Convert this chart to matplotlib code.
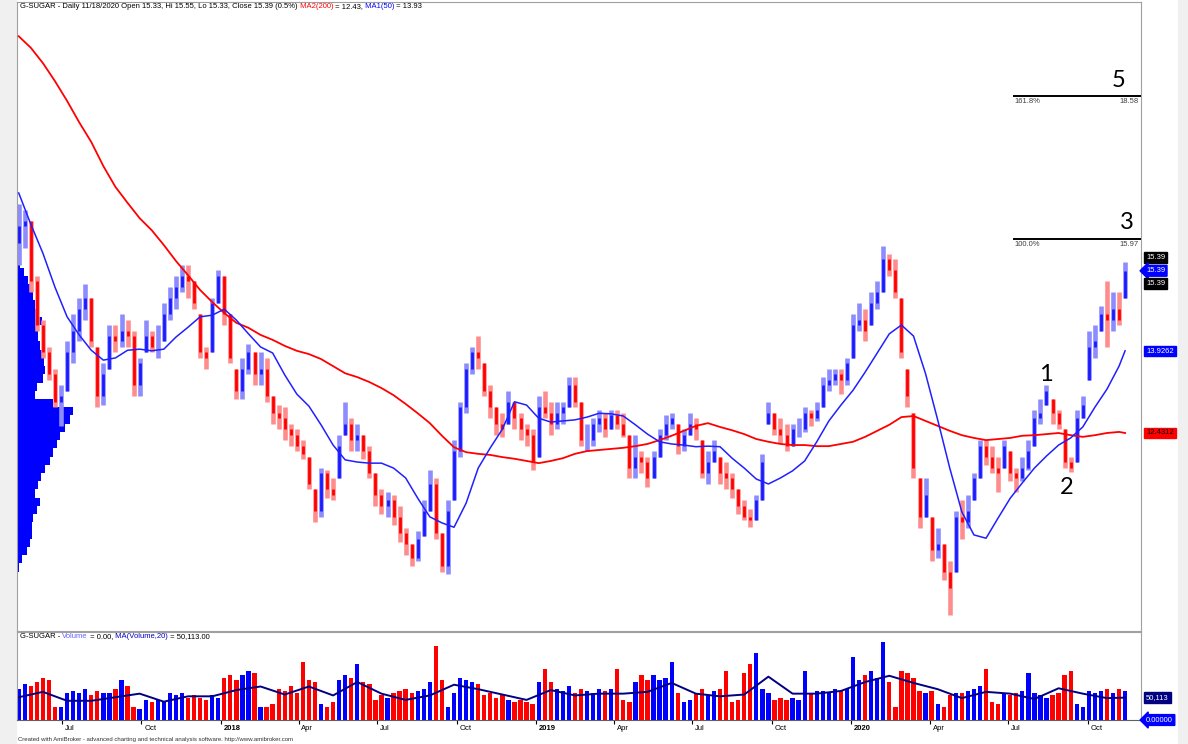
"""
G-SUGAR daily chart (AmiBroker style) re-drawn with matplotlib.
Bars are weekly (high/low/close read off the picture), MAs and volume MA
are sampled every 2 / 4 weeks.
"""
import matplotlib
matplotlib.use("Agg")
import matplotlib.pyplot as plt
import matplotlib.dates as mdates
from matplotlib.patches import Rectangle
from matplotlib.transforms import ScaledTranslation
import numpy as np
import pandas as pd

plt.rcParams["font.family"] = ["Liberation Sans", "DejaVu Sans"]

W, H = 1188, 744

# ---- data -----------------------------------------------------------------
weeks = pd.date_range("2017-05-12", periods=184, freq="W-FRI")
first_open = 15.9

closes = [
    16.2, 16.3, 15.2, 14.4, 13.9, 13.5, 13.0, 13.1, 13.9, 14.3,
    14.7, 14.9, 14.1, 13.1, 13.5, 14.2, 14.1, 14.3, 14.2, 13.3,
    13.7, 14.2, 14.0, 14.0, 14.6, 14.9, 15.1, 15.3, 15.2, 14.8,
    13.9, 13.8, 14.8, 15.3, 14.6, 13.8, 13.2, 13.6, 13.9, 13.5,
    13.6, 13.1, 12.8, 12.7, 12.5, 12.4, 12.2, 12.05, 11.5, 11.0,
    11.7, 11.4, 11.3, 12.2, 12.6, 12.3, 12.4, 12.1, 11.7, 11.3,
    11.1, 11.2, 10.9, 10.6, 10.4, 10.15, 10.5, 11.0, 11.5, 10.6,
    10.0, 11.0, 12.1, 12.9, 13.6, 13.9, 13.8, 13.2, 12.9, 12.6,
    12.5, 13.0, 12.7, 12.5, 12.4, 11.9, 12.9, 12.8, 12.6, 12.8,
    12.9, 13.3, 13.0, 12.3, 12.3, 12.6, 12.7, 12.5, 12.75, 12.6,
    12.4, 11.8, 12.0, 11.9, 11.6, 12.0, 12.4, 12.6, 12.7, 12.2,
    12.4, 12.6, 12.5, 11.7, 11.9, 12.1, 11.7, 11.6, 11.4, 11.1,
    10.9, 10.85, 11.2, 11.9, 12.8, 12.5, 12.4, 12.2, 12.5, 12.5,
    12.8, 12.7, 12.85, 13.3, 13.4, 13.5, 13.4, 13.7, 14.4, 14.5,
    14.3, 14.8, 15.0, 15.6, 15.4, 15.0, 13.9, 13.1, 11.8, 10.9,
    11.3, 10.3, 10.4, 9.9, 9.6, 10.9, 10.8, 11.0, 11.6, 12.2,
    12.0, 11.8, 11.7, 12.2, 11.7, 11.6, 11.8, 12.1, 12.7, 12.8,
    13.2, 12.8, 12.6, 11.9, 11.8, 12.7, 12.95, 14.0, 14.1, 14.6,
    14.5, 14.7, 14.5, 15.39,
]
highs = [
    16.6, 16.5, 16.3, 15.3, 14.5, 14.0, 13.6, 13.3, 14.1, 14.6,
    14.9, 15.15, 14.9, 14.0, 13.7, 14.4, 14.4, 14.6, 14.5, 14.3,
    13.8, 14.5, 14.3, 14.4, 14.8, 15.1, 15.3, 15.5, 15.5, 15.2,
    14.6, 14.0, 14.9, 15.4, 15.3, 14.6, 13.6, 13.8, 14.05, 13.9,
    13.9, 13.8, 13.1, 12.95, 12.9, 12.6, 12.5, 12.3, 12.0, 11.4,
    11.8, 11.75, 11.6, 12.4, 13.0, 12.7, 12.6, 12.4, 12.2, 11.7,
    11.4, 11.35, 11.3, 11.1, 10.7, 10.4, 10.65, 11.2, 11.75, 11.6,
    10.6, 11.2, 12.3, 13.0, 13.7, 14.0, 14.2, 13.7, 13.3, 12.9,
    12.8, 13.2, 13.0, 12.8, 12.6, 12.5, 13.1, 13.2, 13.0, 13.0,
    13.0, 13.45, 13.45, 13.0, 12.6, 12.7, 12.85, 12.8, 12.85, 12.85,
    12.8, 12.4, 12.4, 12.1, 12.0, 12.1, 12.5, 12.75, 12.8, 12.6,
    12.5, 12.8, 12.7, 12.3, 12.1, 12.3, 12.0, 11.9, 11.7, 11.4,
    11.2, 11.05, 11.3, 12.05, 13.0, 12.8, 12.7, 12.6, 12.6, 12.7,
    12.9, 12.85, 13.0, 13.45, 13.6, 13.6, 13.6, 13.8, 14.6, 14.8,
    14.7, 15.0, 15.2, 15.85, 15.7, 15.6, 14.9, 13.6, 12.8, 11.6,
    11.6, 10.9, 10.7, 10.4, 10.1, 11.0, 11.2, 11.3, 11.7, 12.3,
    12.3, 12.2, 12.0, 12.3, 12.1, 11.8, 12.0, 12.3, 12.85, 13.05,
    13.3, 13.05, 12.85, 12.5, 12.0, 12.85, 13.1, 14.3, 14.4, 14.75,
    15.2, 15.0, 15.0, 15.55,
]
lows = [
    15.5, 15.8, 15.0, 14.3, 13.8, 13.4, 12.9, 12.55, 13.2, 13.7,
    14.1, 14.5, 14.0, 12.9, 12.95, 13.6, 13.9, 14.0, 14.0, 13.1,
    13.1, 13.9, 13.9, 13.8, 14.1, 14.5, 14.7, 15.0, 14.9, 14.7,
    13.8, 13.6, 13.9, 14.8, 14.4, 13.7, 13.05, 13.05, 13.5, 13.3,
    13.3, 13.0, 12.6, 12.5, 12.3, 12.2, 12.1, 11.95, 11.4, 10.8,
    10.9, 11.25, 11.2, 11.6, 12.4, 12.1, 12.1, 11.95, 11.6, 11.1,
    10.95, 10.9, 10.75, 10.45, 10.2, 10.0, 10.1, 10.55, 11.0, 10.5,
    9.9, 9.85, 11.2, 12.0, 12.8, 13.5, 13.6, 13.1, 12.7, 12.4,
    12.35, 12.6, 12.5, 12.3, 12.2, 11.75, 12.0, 12.7, 12.4, 12.5,
    12.6, 12.9, 12.9, 12.2, 12.1, 12.2, 12.45, 12.35, 12.5, 12.5,
    12.35, 11.6, 11.6, 11.7, 11.45, 11.6, 12.0, 12.3, 12.5, 12.05,
    12.1, 12.4, 12.3, 11.6, 11.5, 11.9, 11.5, 11.4, 11.25, 10.95,
    10.85, 10.72, 10.85, 11.2, 12.6, 12.4, 12.25, 12.1, 12.2, 12.35,
    12.45, 12.55, 12.65, 12.9, 13.2, 13.3, 13.15, 13.3, 13.8, 14.3,
    14.1, 14.4, 14.7, 15.0, 15.3, 14.9, 13.8, 12.9, 11.6, 10.7,
    10.9, 10.1, 10.15, 9.75, 9.1, 9.9, 10.5, 10.7, 11.2, 11.6,
    11.85, 11.7, 11.35, 11.8, 11.55, 11.35, 11.55, 11.75, 12.2, 12.6,
    12.95, 12.6, 12.5, 11.8, 11.72, 11.9, 12.7, 13.4, 13.8, 14.3,
    14.0, 14.3, 14.4, 14.9,
]
# volume, thousands of contracts
volume_k = [
    70, 80, 75, 85, 95, 90, 30, 28, 60, 65,
    60, 70, 55, 65, 60, 60, 70, 90, 75, 30,
    25, 45, 40, 45, 40, 60, 55, 60, 50, 55,
    50, 45, 55, 50, 95, 100, 90, 100, 110, 105,
    30, 28, 35, 70, 65, 75, 60, 130, 90, 85,
    35, 30, 40, 90, 100, 95, 125, 85, 80, 45,
    55, 50, 60, 65, 70, 60, 65, 70, 85, 165,
    90, 30, 60, 95, 90, 85, 80, 55, 60, 50,
    55, 45, 40, 45, 40, 35, 85, 115, 85, 70,
    65, 75, 60, 70, 65, 60, 70, 65, 70, 115,
    45, 40, 85, 100, 90, 100, 90, 95, 130, 60,
    40, 45, 60, 70, 55, 65, 70, 110, 40, 45,
    105, 125, 150, 70, 60, 45, 50, 45, 50, 45,
    110, 60, 65, 65, 60, 70, 65, 70, 140, 90,
    100, 110, 95, 175, 85, 30, 110, 105, 95, 65,
    60, 65, 35, 30, 55, 60, 60, 65, 70, 75,
    115, 40, 35, 60, 55, 60, 65, 105, 60, 55,
    50, 55, 60, 100, 110, 35, 30, 65, 60, 65,
    70, 60, 70, 65,
]

# moving averages, every second week + last bar
ma_dates = weeks[::2].append(weeks[-1:])
ma200 = [
    19.67, 19.46, 19.18, 18.85, 18.49, 18.10, 17.74, 17.30, 16.92, 16.63,
    16.35, 16.13, 15.86, 15.57, 15.31, 15.04, 14.82, 14.62, 14.44, 14.35,
    14.22, 14.13, 14.02, 13.93, 13.87, 13.78, 13.65, 13.52, 13.45, 13.36,
    13.25, 13.12, 12.96, 12.79, 12.61, 12.38, 12.17, 12.08, 12.05, 12.03,
    11.99, 11.96, 11.92, 11.88, 11.92, 11.97, 12.05, 12.10, 12.12, 12.14,
    12.16, 12.19, 12.23, 12.30, 12.38, 12.47, 12.56, 12.61, 12.54, 12.48,
    12.41, 12.32, 12.27, 12.23, 12.21, 12.21, 12.19, 12.19, 12.23, 12.27,
    12.36, 12.47, 12.58, 12.72, 12.74, 12.65, 12.56, 12.47, 12.39, 12.34,
    12.30, 12.32, 12.34, 12.38, 12.39, 12.41, 12.43, 12.39, 12.36, 12.39,
    12.43, 12.45, 12.43,
]
ma50 = [
    16.81, 16.24, 15.71, 15.09, 14.55, 14.22, 13.94, 13.76, 13.80, 13.94,
    13.96, 13.93, 13.96, 14.18, 14.36, 14.55, 14.58, 14.69, 14.49, 14.24,
    14.00, 13.89, 13.49, 13.14, 12.92, 12.58, 12.21, 11.94, 11.90, 11.88,
    11.88, 11.79, 11.61, 11.24, 10.90, 10.79, 10.71, 11.15, 11.79, 12.16,
    12.50, 13.00, 12.94, 12.70, 12.63, 12.65, 12.67, 12.72, 12.79, 12.78,
    12.74, 12.58, 12.41, 12.27, 12.23, 12.21, 12.18, 12.19, 12.18, 11.97,
    11.79, 11.59, 11.50, 11.61, 11.74, 11.92, 12.27, 12.65, 12.94, 13.21,
    13.54, 13.89, 14.24, 14.40, 14.20, 13.51, 12.67, 11.79, 10.99, 10.57,
    10.51, 10.88, 11.24, 11.52, 11.79, 12.01, 12.21, 12.34, 12.54, 12.90,
    13.23, 13.65, 13.93,
]
# MA(Volume,20), every fourth week + last bar (thousands)
vol_ma_dates = weeks[::4].append(weeks[-1:])
vol_ma = [
    51, 63, 43, 43, 51, 59, 41, 53, 53, 67,
    75, 57, 75, 55, 85, 59, 45, 55, 79, 69,
    57, 45, 67, 55, 59, 59, 63, 83, 59, 53,
    57, 97, 59, 59, 65, 85, 99, 83, 69, 49,
    63, 59, 47, 71, 59, 49, 50.113,
]

# volume-at-price profile (bin bottom, relative volume)
profile_lo = [
    9.45, 9.60, 9.75, 9.90, 10.05, 10.20, 10.35, 10.50, 10.65, 10.80,
    10.95, 11.10, 11.25, 11.40, 11.55, 11.70, 11.85, 12.00, 12.15, 12.30,
    12.45, 12.60, 12.75, 12.90, 13.05, 13.20, 13.35, 13.50, 13.65, 13.80,
    13.95, 14.10, 14.25, 14.40, 14.55, 14.70, 14.85, 15.00, 15.15, 15.30,
    15.45,
]
profile_vol = [
    1, 1, 1, 2, 5, 10, 13, 15, 15, 16,
    20, 23, 18, 21, 24, 28, 33, 36, 40, 43,
    48, 53, 56, 36, 18, 20, 26, 28, 27, 26,
    23, 21, 21, 25, 20, 18, 16, 13, 11, 7,
    3,
]

# fibonacci projection and wave count
fib_start = "2020-07-06"
fib_levels = [15.97, 18.58]
fib_pcts = ["100.0%", "161.8%"]
wave_labels = ["1", "2", "3", "5"]
wave_dates = ["2020-08-13", "2020-09-06", "2020-11-15", "2020-11-05"]
wave_prices = [13.49, 11.43, 16.28, 18.87]

last_close, last_ma50, last_ma200 = 15.39, 13.9262, 12.4312

# ---- figure ---------------------------------------------------------------
fig = plt.figure(figsize=(W / 100, H / 100), dpi=100, facecolor="white")
fig.add_artist(Rectangle((0, 0), 16 / W, 1, transform=fig.transFigure,
                         color="#f0f0f0", zorder=-5))
fig.add_artist(Rectangle((1178 / W, 0), 10 / W, 1, transform=fig.transFigure,
                         color="#f0f0f0", zorder=-5))

ax = fig.add_axes([17 / W, 1 - 631 / H, (1141 - 17) / W, (631 - 2) / H])
axv = fig.add_axes([17 / W, 1 - 720 / H, (1141 - 17) / W, (720 - 632) / H])

x0 = mdates.date2num(pd.Timestamp("2017-05-10"))
x1 = mdates.date2num(pd.Timestamp("2020-12-01 10:00"))
for a in (ax, axv):
    a.set_xlim(x0, x1)
    a.set_yticks([])
    for sp in a.spines.values():
        sp.set_color("#a0a0a0")
        sp.set_linewidth(0.8)
ax.set_ylim(8.817, 20.295)
ax.set_xticks([])
axv.set_ylim(0, 197)
axv.spines["bottom"].set_color("#606060")

# price bars
x = mdates.date2num(weeks)
c = np.array(closes)
hi = np.array(highs)
lo = np.array(lows)
o = np.clip(np.r_[first_open, c[:-1]], lo, hi)
up = c >= o

# volume profile at the left edge
pv = np.array(profile_vol, dtype=float)
ax.barh(profile_lo, pv / pv.max() * 0.05 * (x1 - x0), height=0.15, left=x0,
        align="edge", color="#0000ff", linewidth=0, zorder=1)

ax.vlines(x[up], lo[up], hi[up], color="#8c8cff", lw=3.3, zorder=2)
ax.vlines(x[~up], lo[~up], hi[~up], color="#ff8c8c", lw=3.3, zorder=2)
ax.vlines(x[up], o[up], c[up], color="#1a1aff", lw=2.0, zorder=3)
ax.vlines(x[~up], o[~up], c[~up], color="#ff0000", lw=2.0, zorder=3)

ax.plot(mdates.date2num(ma_dates), ma200, color="#ff0000", lw=1.3, zorder=4)
ax.plot(mdates.date2num(ma_dates), ma50, color="#2020ff", lw=1.1, zorder=4)

# fibonacci lines
fx = mdates.date2num(pd.Timestamp(fib_start))
for lvl, pct in zip(fib_levels, fib_pcts):
    ax.hlines(lvl, fx, x1, color="black", lw=1.4, zorder=5)
    ax.annotate(pct, xy=(fx, lvl), xytext=(1.5, -1.5), textcoords="offset points",
                ha="left", va="top", fontsize=5.5, color="#404040")
    ax.annotate(f"{lvl:.2f}", xy=(x1, lvl), xytext=(-1.5, -1.5),
                textcoords="offset points", ha="right", va="top", fontsize=5.5,
                color="#404040", annotation_clip=False)

for s, d, p in zip(wave_labels, wave_dates, wave_prices):
    ax.text(mdates.date2num(pd.Timestamp(d)), p, s, fontsize=17, ha="center",
            va="center", color="black", family=["Lato", "DejaVu Sans"], zorder=6)


def rich_text(axis, xf, yf, parts, size):
    """Text made of coloured pieces placed one after another."""
    s, col = parts[0]
    t = axis.text(xf, yf, s, color=col, transform=axis.transAxes, ha="left",
                  va="center", fontsize=size)
    for s, col in parts[1:]:
        t = axis.annotate(s, xy=(1, 0), xycoords=t, va="bottom", ha="left",
                          color=col, fontsize=size)


rich_text(ax, 3 / 1124, 1 - 5 / 629, [
    ("G-SUGAR - Daily 11/18/2020 Open 15.33, Hi 15.55, Lo 15.33, Close 15.39 (0.5%)", "black"),
    (" MA2(200)", "#ff0000"), (" = 12.43,", "black"),
    (" MA1(50)", "#0000ff"), (" = 13.93", "black")], 5.5)
rich_text(axv, 3 / 1124, 1 - 5 / 88, [
    ("G-SUGAR - ", "black"), ("Volume", "#6060ff"), (" = 0.00,", "black"),
    (" MA(Volume,20)", "#0000c0"), (" = 50,113.00", "black")], 5.5)


def value_box(axis, val, s, fc, tc, dy_px=0, arrow=False):
    style = "larrow,pad=0.25" if arrow else "square,pad=0.25"
    axis.annotate(s, xy=(1, val), xycoords=axis.get_yaxis_transform(),
                  xytext=(5 * 0.72, -dy_px * 0.72), textcoords="offset points",
                  ha="left", va="center", fontsize=5.5, color=tc,
                  bbox=dict(boxstyle=style, fc=fc, ec=fc))


value_box(ax, last_close, f"{last_close:.2f}", "black", "white", dy_px=-13)
value_box(ax, last_close, f"{last_close:.2f}", "#0000ff", "white", arrow=True)
value_box(ax, last_close, f"{last_close:.2f}", "black", "white", dy_px=13)
value_box(ax, last_ma50, f"{last_ma50:.4f}", "#0000ff", "white")
value_box(ax, last_ma200, f"{last_ma200:.4f}", "#ff0000", "black")

# volume panel
vcol = np.where(up, "#0000ff", "#ff0000")
axv.bar(x, volume_k, width=5.0, color=vcol, linewidth=0)
axv.plot(mdates.date2num(vol_ma_dates), vol_ma, color="#000080", lw=1.4)
value_box(axv, vol_ma[-1], "50,113", "#000080", "white")
value_box(axv, 0, "0.00000", "#0000ff", "white", arrow=True)

quarters = pd.date_range("2017-07-01", "2020-10-01", freq="QS-JAN")
qlabels = [str(q.year) if q.month == 1 else q.strftime("%b") for q in quarters]
axv.set_xticks(mdates.date2num(quarters))
axv.set_xticklabels(qlabels)
axv.tick_params(axis="x", length=3, width=0.8, colors="black", labelsize=5.5, pad=0.5)
shift = ScaledTranslation(2 / 72, 0, fig.dpi_scale_trans)
for lbl, q in zip(axv.get_xticklabels(), quarters):
    lbl.set_horizontalalignment("left")
    lbl.set_transform(lbl.get_transform() + shift)
    if q.month == 1:
        lbl.set_fontweight("bold")

fig.text(18 / W, 1 - 740 / H,
         "Created with AmiBroker - advanced charting and technical analysis software. http://www.amibroker.com",
         fontsize=4.3, va="center", ha="left", color="#303030")

fig.savefig("out.png", dpi=100)
